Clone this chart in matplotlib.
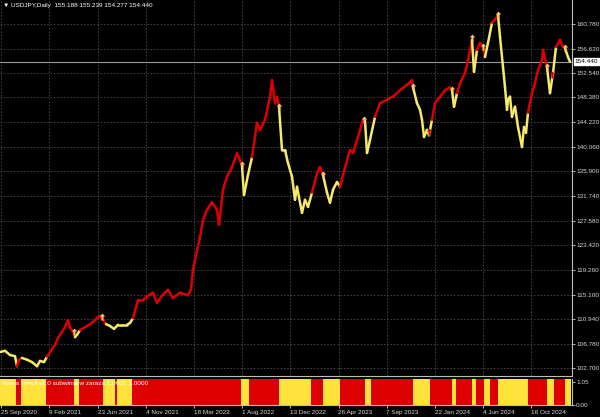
import matplotlib
matplotlib.use("Agg")
import matplotlib.pyplot as plt
from matplotlib.collections import LineCollection
from matplotlib.path import Path

plt.rcParams['font.family'] = ['Liberation Sans', 'DejaVu Sans']

# ---------------- data ----------------
bar_index = [0, 10, 20, 30, 34, 38, 44, 54, 64, 74,
             80, 88, 94, 100, 110, 116, 124, 130, 136, 140,
             146, 150, 154, 160, 170, 180, 190, 198, 204, 212,
             220, 228, 236, 244, 254, 260, 266, 276, 286, 296,
             306, 314, 324, 336, 346, 360, 376, 382, 386, 394,
             400, 406, 414, 424, 434, 438, 446, 454, 464, 474,
             480, 484, 488, 492, 496, 504, 514, 520, 530, 540,
             544, 550, 554, 558, 564, 570, 576, 584, 590, 594,
             604, 610, 616, 624, 634, 640, 646, 654, 660, 666,
             674, 680, 690, 700, 706, 716, 726, 730, 734, 740,
             750, 760, 774, 786, 800, 814, 824, 826, 834, 840,
             844, 848, 854, 858, 864, 870, 880, 890, 900, 904,
             908, 914, 920, 930, 936, 944, 948, 954, 960, 966,
             970, 976, 984, 990, 996, 1000, 1006, 1010, 1014, 1016,
             1020, 1024, 1030, 1036, 1044, 1048, 1052, 1056, 1064, 1070,
             1076, 1084, 1086, 1092, 1094, 1100, 1106, 1112, 1120, 1126,
             1130, 1136, 1140]
close_price = [105.4, 105.6, 104.9, 104.7, 103.0, 104.1, 104.4, 104.1, 103.7, 103.0,
               103.9, 103.7, 104.6, 105.4, 106.6, 107.8, 108.8, 109.6, 110.8, 109.5,
               108.8, 107.9, 108.3, 109.1, 109.6, 110.1, 110.8, 111.5, 111.1, 110.1,
               109.8, 109.3, 110.0, 110.0, 110.0, 110.3, 111.1, 114.2, 114.2, 114.9,
               115.4, 113.7, 114.9, 115.9, 114.5, 115.4, 115.0, 115.9, 119.3, 122.6,
               124.8, 127.7, 129.4, 130.7, 129.4, 126.9, 132.8, 135.0, 136.6, 139.0,
               137.8, 136.8, 131.9, 133.6, 135.3, 138.3, 144.1, 142.9, 144.6, 148.5,
               151.3, 147.4, 148.5, 146.8, 139.5, 139.5, 137.3, 135.0, 131.1, 133.3,
               128.9, 131.1, 129.9, 132.3, 135.6, 136.6, 135.3, 132.3, 130.6, 132.8,
               134.1, 133.3, 136.6, 139.5, 139.0, 141.7, 144.6, 144.4, 139.0, 141.2,
               145.1, 147.4, 148.0, 148.5, 149.6, 150.5, 151.3, 150.1, 147.4, 146.3,
               144.6, 141.7, 142.9, 142.0, 144.6, 147.4, 148.5, 149.6, 150.1, 149.6,
               146.8, 149.1, 150.8, 152.5, 154.7, 158.1, 152.7, 156.4, 157.6, 156.9,
               155.2, 157.6, 161.0, 161.5, 162.3, 158.6, 153.5, 150.1, 146.3, 148.0,
               148.5, 145.1, 146.8, 143.4, 140.0, 143.4, 142.4, 145.8, 149.1, 150.8,
               153.0, 154.7, 156.4, 154.2, 153.5, 149.1, 152.5, 156.9, 158.1, 156.9,
               156.7, 155.2, 154.4]

# indicator regimes: start bar and state (Y = yellow, R = red)
regime_start = [0, 32, 42, 92, 148, 158, 206, 230, 234, 264,
                482, 498, 558, 622, 646, 680, 730, 742, 826, 860,
                904, 912, 944, 952, 968, 980, 996, 1056, 1094, 1108, 1130]
regime_state = ['Y', 'R', 'Y', 'R', 'Y', 'R', 'Y', 'R', 'Y', 'R',
                'Y', 'R', 'Y', 'R', 'Y', 'R', 'Y', 'R', 'Y', 'R',
                'Y', 'R', 'Y', 'R', 'Y', 'R', 'Y', 'R', 'Y', 'R', 'Y']
last_bar = 1141

# arrow signals
up_arrow_bar = [148, 204, 484, 558, 646, 728, 826, 904, 944, 966, 996, 1094, 1130]
up_arrow_price = [108.8, 111.3, 137.0, 146.8, 135.3, 144.6, 150.1, 149.6, 158.4, 156.9, 162.3, 153.5, 156.7]
red_arrow_bar = [858, 1104]
red_arrow_price = [142.5, 152.2]

price_ticks = [160.780, 156.620, 152.540, 148.380, 144.220, 140.060, 135.900, 131.740,
               127.580, 123.420, 119.260, 115.100, 110.940, 106.780, 102.700]
date_tick_bar = [2, 98, 195, 291, 388, 484, 580, 677, 773, 870, 966, 1062]
date_labels = ['25 Sep 2020', '9 Feb 2021', '23 Jun 2021', '4 Nov 2021', '18 Mar 2022',
               '1 Aug 2022', '13 Dec 2022', '26 Apr 2023', '7 Sep 2023', '22 Jan 2024',
               '4 Jun 2024', '16 Oct 2024']
header = '\u25BC USDJPY,Daily  155.188 155.239 154.277 154.440'
last_price = 154.440
sub_label = 'Hama Trend v2.0 subwindow zaraza 1.0000 1.0000'

# ---------------- styling ----------------
RED = '#DD0000'
YEL = '#FFE23A'
LINE_YEL = '#F6EA6A'
ARROW = '#F6C86E'
GRID = '#4A4A4A'
FG = '#D8D8D8'
FS = 4.6

W, H = 600, 417
fig = plt.figure(figsize=(6.0, 4.17), dpi=100, facecolor='black')
right_px = 572
ax = fig.add_axes([0, 1 - 376 / H, right_px / W, 376 / H])
ax2 = fig.add_axes([0, 1 - 405 / H, right_px / W, 26 / H])

for a in (ax, ax2):
    a.set_facecolor('black')
    for s in ('left', 'top'):
        a.spines[s].set_visible(False)
    for s in ('right', 'bottom'):
        a.spines[s].set_color('#BDBDBD')
        a.spines[s].set_linewidth(0.8)
    a.set_xlim(0, 1144)

# state lookup per segment
def state_at(b):
    st = regime_state[0]
    for s0, s in zip(regime_start, regime_state):
        if b >= s0:
            st = s
    return st

segs, cols = [], []
for i in range(len(bar_index) - 1):
    segs.append([(bar_index[i], close_price[i]), (bar_index[i + 1], close_price[i + 1])])
    cols.append(RED if state_at(bar_index[i]) == 'R' else LINE_YEL)
lc = LineCollection(segs, colors=cols, linewidths=1.8, capstyle='round', joinstyle='round', zorder=3)
ax.add_collection(lc)

arrow_path = Path([(0, 1.0), (-0.7, 0.25), (-0.25, 0.25), (-0.25, -0.8), (0.25, -0.8),
                   (0.25, 0.25), (0.7, 0.25), (0, 1.0)], closed=True)
ax.scatter(up_arrow_bar, up_arrow_price, marker=arrow_path, s=32, color=ARROW, zorder=4, linewidths=0)
ax.scatter(red_arrow_bar, red_arrow_price, marker=arrow_path, s=32, color=RED, zorder=4, linewidths=0)

ax.set_ylim(101.35, 164.83)
ax.yaxis.tick_right()
ax.set_yticks(price_ticks)
ax.set_yticklabels([f'{v:.3f}' for v in price_ticks])
ax.tick_params(axis='y', colors=FG, labelsize=FS, length=2, width=0.6, pad=1)
ax.set_xticks(date_tick_bar)
ax.tick_params(axis='x', length=0, labelbottom=False)
ax.grid(True, color=GRID, linestyle=(0, (2, 2)), linewidth=0.6)
ax.set_axisbelow(True)

# current price line and label
ax.axhline(last_price, color='#9A9A9A', linewidth=0.8, zorder=2)
ax.text(1.004, last_price, f'{last_price:.3f}', transform=ax.get_yaxis_transform(),
        fontsize=FS, color='black', va='center', ha='left',
        bbox=dict(boxstyle='square,pad=0.12', fc='white', ec='white'), clip_on=False, zorder=6)

ax.text(0.006, 0.992, header, transform=ax.transAxes, fontsize=FS, color='white',
        va='top', ha='left')

# subwindow
widths = [e - s for s, e in zip(regime_start, regime_start[1:] + [last_bar])]
sub_cols = [RED if s == 'R' else YEL for s in regime_state]
ax2.bar(regime_start, [1.2] * len(regime_start), width=widths, bottom=0, align='edge',
        color=sub_cols, linewidth=0)
ax2.set_ylim(0, 1.2)
ax2.yaxis.tick_right()
ax2.set_yticks([1.05, 0.0])
ax2.set_yticklabels(['1.05', '0.00'])
ax2.tick_params(axis='y', colors=FG, labelsize=FS, length=2, width=0.6, pad=1)
ax2.set_xticks(date_tick_bar)
ax2.set_xticklabels(date_labels, ha='left')
ax2.tick_params(axis='x', colors=FG, labelsize=FS, length=2, width=0.6, pad=1.5)
ax2.text(0.004, 0.93, sub_label, transform=ax2.transAxes, fontsize=FS,
         color='white', va='top', ha='left', zorder=5)

fig.savefig('out.png', dpi=100, facecolor='black')
